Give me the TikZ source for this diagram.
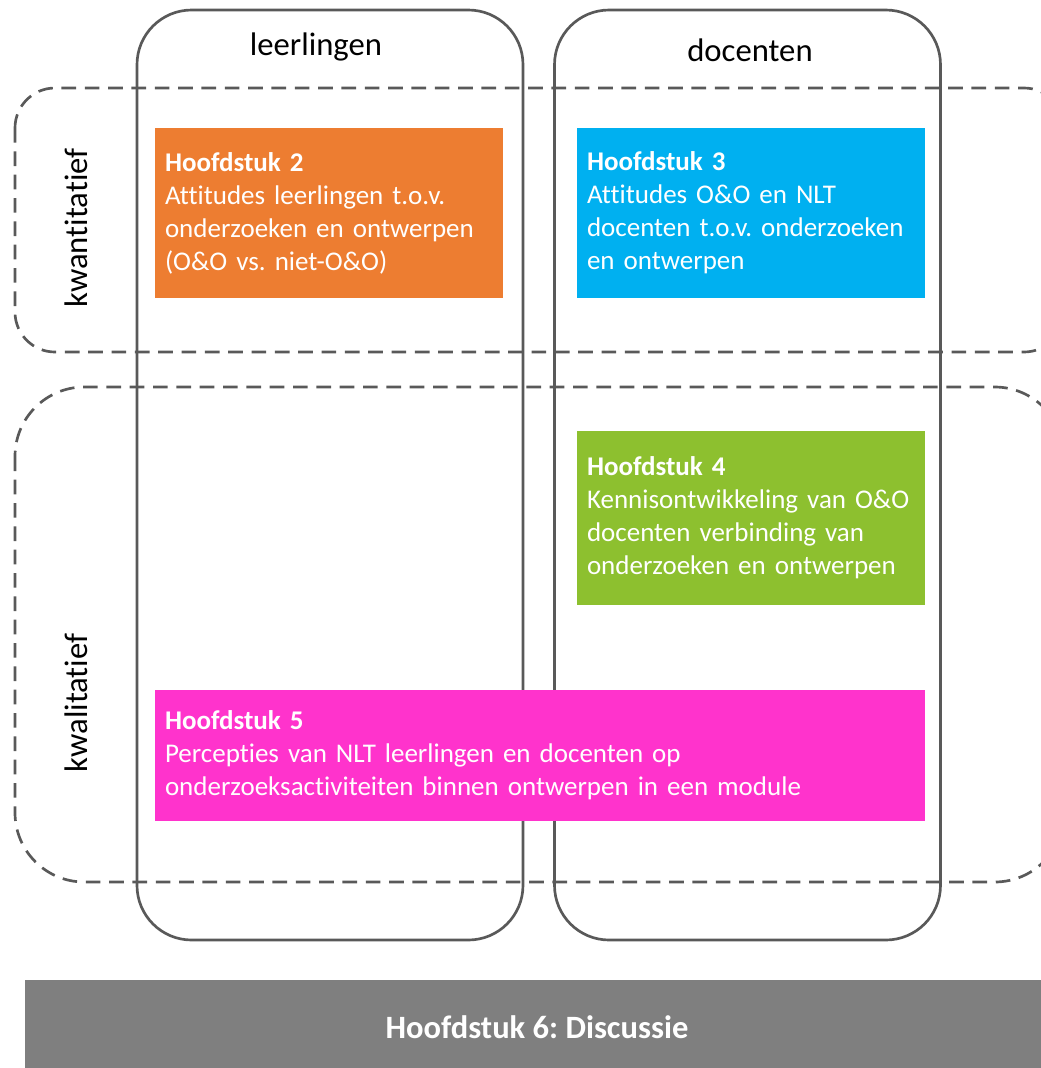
\documentclass[tikz,border=0pt]{standalone}
\usepackage{fontspec}
\setmainfont{Carlito}[Ligatures=NoCommon]
\frenchspacing
\begin{document}
\definecolor{frame}{HTML}{595959}
\definecolor{chorange}{HTML}{ED7D31}
\definecolor{chblue}{HTML}{00B0F0}
\definecolor{chgreen}{HTML}{8DC02F}
\definecolor{chmagenta}{HTML}{FF33CC}
\definecolor{chgray}{HTML}{7F7F7F}
\begin{tikzpicture}[x=0.75pt,y=-0.75pt,
  column/.style={draw=frame, line width=2pt, rounded corners=41pt,
    minimum width=289.5pt, minimum height=697.5pt, inner sep=0pt},
  band/.style={draw=frame, line width=2pt, dash pattern=on 11pt off 6.5pt},
  headlabel/.style={font=\fontsize{24.5}{29}\selectfont, text=black, inner sep=0pt},
  chapter/.style={rectangle, inner xsep=7.5pt, inner ysep=0pt, align=left,
    text=white, font=\fontsize{20.25}{24.75}\selectfont},
  bar/.style={rectangle, fill=chgray, text=white, inner sep=0pt,
    font=\bfseries\fontsize{24.4}{29}\selectfont}]
  \useasboundingbox (0,0) rectangle (1041,1068);
  \clip (0,0) rectangle (1041,1068);

  % dashed bands for the two research types
  \draw[band, rounded corners=30pt] (15,88) rectangle (1064,352);
  \draw[band, rounded corners=52pt] (15,387) rectangle (1064,882);
  \node[headlabel, rotate=90] (kwant) at (76,228) {kwantitatief};
  \node[headlabel, rotate=90] (kwal) at (76,703) {kwalitatief};

  % columns for the two groups
  \node[column] (lcol) at (330,475) {};
  \node[column] (dcol) at (747.5,475) {};
  \node[headlabel] (ltitle) at (316,47) {leerlingen};
  \node[headlabel] (dtitle) at (750,50) {docenten};

  % chapter boxes
  \node[chapter, fill=chorange, minimum width=261pt, minimum height=127.5pt,
        text width=246pt] (h2) at (329,213)
    {\textbf{Hoofdstuk 2}\\Attitudes leerlingen t.o.v.\\onderzoeken en ontwerpen\\(O\&O vs. niet-O\&O)};
  \node[chapter, fill=chblue, minimum width=261pt, minimum height=127.5pt,
        text width=246pt] (h3) at (751,213)
    {\textbf{Hoofdstuk 3}\\Attitudes O\&O en NLT\\docenten t.o.v. onderzoeken\\en ontwerpen};
  \node[chapter, fill=chgreen, minimum width=261pt, minimum height=130.5pt,
        text width=246pt] (h4) at (751,518)
    {\textbf{Hoofdstuk 4}\\Kennisontwikkeling van O\&O\\docenten verbinding van\\onderzoeken en ontwerpen};
  \node[chapter, fill=chmagenta, minimum width=577.5pt, minimum height=98.25pt,
        text width=562.5pt] (h5) at (540,755.5)
    {\textbf{Hoofdstuk 5}\\Percepties van NLT leerlingen en docenten op\\onderzoeksactiviteiten binnen ontwerpen in een module};

  % closing chapter
  \node[bar, minimum width=768pt, minimum height=70.5pt] (h6) at (537,1027)
    {Hoofdstuk 6: Discussie};
\end{tikzpicture}
\end{document}
